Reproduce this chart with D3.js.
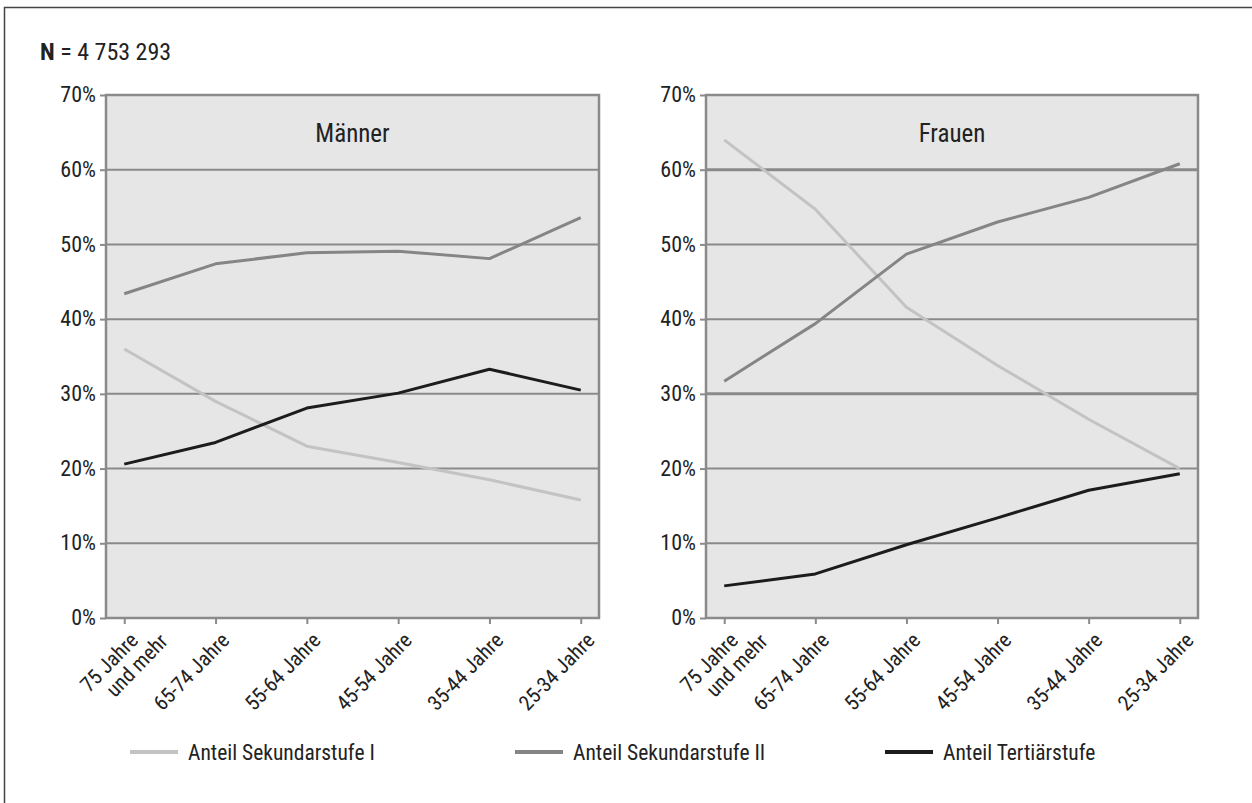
<!DOCTYPE html>
<html><head><meta charset="utf-8">
<script src="https://cdn.jsdelivr.net/npm/d3@7"></script>
<style>
html,body{margin:0;padding:0;background:#fff;}
svg text{font-family:"Liberation Sans Narrow","Arial Narrow","Roboto Condensed","Liberation Sans",sans-serif;fill:#222;}
</style></head>
<body><svg id="c" width="1252" height="803"></svg>
<script>
const categories = ["75 Jahre|und mehr","65-74 Jahre","55-64 Jahre","45-54 Jahre","35-44 Jahre","25-34 Jahre"];
const seriesNames = ["Anteil Sekundarstufe I","Anteil Sekundarstufe II","Anteil Tertiärstufe"];
const maennerSekI  = [36.0, 29.0, 23.0, 20.8, 18.5, 15.8];
const maennerSekII = [43.4, 47.4, 48.9, 49.1, 48.1, 53.6];
const maennerTert  = [20.6, 23.5, 28.1, 30.1, 33.3, 30.5];
const frauenSekI   = [64.0, 54.7, 41.6, 33.8, 26.6, 20.0];
const frauenSekII  = [31.7, 39.4, 48.7, 53.0, 56.3, 60.8];
const frauenTert   = [4.3, 5.9, 9.8, 13.4, 17.1, 19.3];
const yTicks = [0,10,20,30,40,50,60,70];
const panelTitles = ["Männer","Frauen"];
const nLabel = "4 753 293";

const colors = ["#c3c3c3","#858585","#1c1c1c"];
const svg = d3.select("#c");

// outer frame
svg.append("rect").attr("x",4.5).attr("y",7.5).attr("width",1260).attr("height",820)
  .attr("fill","none").attr("stroke","#444").attr("stroke-width",1.5);

svg.append("text").attr("x",40).attr("y",60).attr("font-size",24)
  .html('<tspan font-weight="bold">N</tspan> = ' + nLabel);

const panels = [
  {x0:106, x1:599, title:panelTitles[0], data:[maennerSekI,maennerSekII,maennerTert]},
  {x0:706, x1:1198, title:panelTitles[1], data:[frauenSekI,frauenSekII,frauenTert]}
];
const yTop = 95, yBot = 618;

panels.forEach((p,pi)=>{
  const g = svg.append("g");
  const x = d3.scalePoint().domain(categories).range([p.x0,p.x1]).padding(0.2);
  const y = d3.scaleLinear().domain([0,70]).range([yBot,yTop]);
  g.append("rect").attr("x",p.x0).attr("y",yTop).attr("width",p.x1-p.x0).attr("height",yBot-yTop)
    .attr("fill","#e6e6e6");
  // gridlines
  g.selectAll(".grid").data(yTicks.slice(1,-1)).join("line")
    .attr("x1",p.x0).attr("x2",p.x1).attr("y1",d=>y(d)).attr("y2",d=>y(d))
    .attr("stroke","#8a8a8a").attr("stroke-width",d=> (pi===1 && (d===60||d===30)) ? 3 : 2);
  // border
  g.append("rect").attr("x",p.x0).attr("y",yTop).attr("width",p.x1-p.x0).attr("height",yBot-yTop)
    .attr("fill","none").attr("stroke","#8a8a8a").attr("stroke-width",2.5);
  // y axis
  const ya = g.append("g").attr("transform",`translate(${p.x0},0)`)
    .call(d3.axisLeft(y).tickValues(yTicks).tickFormat(d=>d+"%").tickSize(6).tickPadding(4));
  ya.select(".domain").remove();
  ya.selectAll(".tick line").attr("stroke","#8a8a8a").attr("stroke-width",2);
  ya.selectAll(".tick text").attr("font-size",22).attr("fill","#222").attr("dy","0.3em");
  // x axis
  const xa = g.append("g").attr("transform",`translate(0,${yBot})`)
    .call(d3.axisBottom(x).tickSize(6).tickFormat(""));
  xa.select(".domain").remove();
  xa.selectAll(".tick line").attr("stroke","#8a8a8a").attr("stroke-width",2);
  xa.selectAll(".tick").each(function(d){
    const parts = d.split("|");
    const t = d3.select(this).append("text")
      .attr("transform","translate(10,19) rotate(-46)")
      .attr("text-anchor","end").attr("font-size",21).attr("fill","#222");
    parts.forEach((s,i)=>{
      t.append("tspan").attr("x", i===0 ? 0 : 20)
        .attr("dy", i===0 ? "0.3em" : "1.05em")
        .text(s);
    });
  });
  // title
  g.append("text").attr("x",(p.x0+p.x1)/2).attr("y",142).attr("text-anchor","middle")
    .attr("font-size",25).text(p.title);
  // lines
  const line = d3.line().x((d,i)=>x(categories[i])).y(d=>y(d));
  p.data.forEach((vals,si)=>{
    g.append("path").datum(vals).attr("d",line).attr("fill","none")
      .attr("stroke",colors[si]).attr("stroke-width",3).attr("stroke-linejoin","round");
  });
});

// legend
const legX = [130, 515, 885];
const legend = svg.append("g");
seriesNames.forEach((n,i)=>{
  legend.append("line").attr("x1",legX[i]).attr("x2",legX[i]+48).attr("y1",752).attr("y2",752)
    .attr("stroke",colors[i]).attr("stroke-width",4);
  legend.append("text").attr("x",legX[i]+58).attr("y",752).attr("dy","0.35em")
    .attr("font-size",21.5).text(n);
});
</script></body></html>
